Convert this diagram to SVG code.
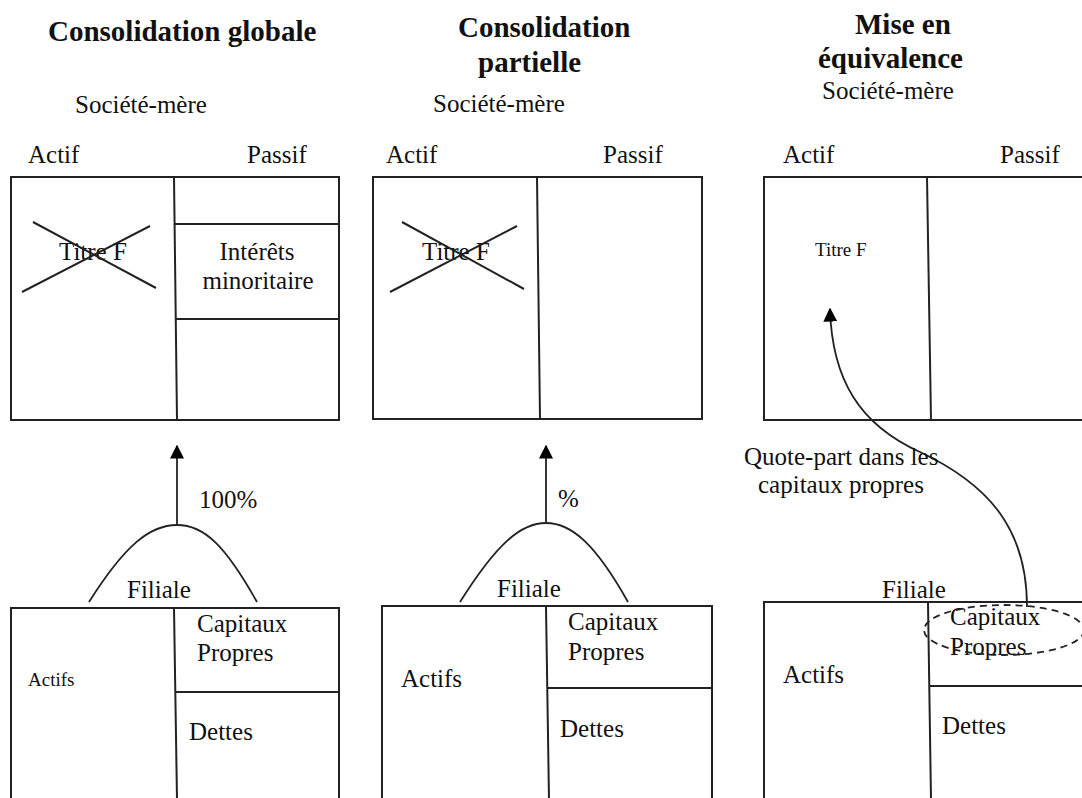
<svg xmlns="http://www.w3.org/2000/svg" width="1082" height="798" viewBox="0 0 1082 798">
<style>
text{font-family:"Liberation Serif","Times New Roman",serif;fill:#111;font-size:25px}
.t{font-weight:bold;font-size:29px}
.s{font-size:19px}
.b{fill:none;stroke:#222;stroke-width:2}
.c{fill:none;stroke:#222;stroke-width:1.8}
</style>
<defs>
<marker id="ah" viewBox="0 0 10 10" refX="9" refY="5" markerWidth="14" markerHeight="14" markerUnits="userSpaceOnUse" orient="auto">
<path d="M0 0 L10 5 L0 10 Z" fill="#000"/>
</marker>
</defs>
<rect width="1082" height="798" fill="#fff"/>

<g id="headers">
<text class="t" x="48" y="41">Consolidation globale</text>
<text class="t" x="458" y="37">Consolidation</text>
<text class="t" x="478" y="72">partielle</text>
<text class="t" x="855" y="34">Mise en</text>
<text class="t" x="818" y="68">équivalence</text>
<text x="75" y="113">Société-mère</text>
<text x="433" y="112">Société-mère</text>
<text x="822" y="99">Société-mère</text>
<text x="28" y="163">Actif</text>
<text x="247" y="163">Passif</text>
<text x="386" y="163">Actif</text>
<text x="603" y="163">Passif</text>
<text x="783" y="163">Actif</text>
<text x="1000" y="163">Passif</text>
</g>

<g id="mere-globale">
<rect class="b" x="11" y="177" width="328" height="243"/>
<line class="b" x1="174" y1="177" x2="177" y2="420"/>
<line class="b" x1="175" y1="224" x2="339" y2="224"/>
<line class="b" x1="176" y1="319" x2="339" y2="319"/>
<text x="59" y="260">Titre F</text>
<line class="b" x1="33" y1="222" x2="156" y2="288"/>
<line class="b" x1="22" y1="292" x2="150" y2="226"/>
<text x="257" y="260" text-anchor="middle">Intérêts</text>
<text x="258" y="289" text-anchor="middle">minoritaire</text>
</g>

<g id="mere-partielle">
<rect class="b" x="373" y="177" width="329" height="242"/>
<line class="b" x1="537" y1="177" x2="540" y2="419"/>
<text x="422" y="260">Titre F</text>
<line class="b" x1="402" y1="222" x2="524" y2="289"/>
<line class="b" x1="390" y1="292" x2="517" y2="226"/>
</g>

<g id="mere-equivalence">
<path class="b" d="M1085 177 H764 V420 H1085"/>
<line class="b" x1="927" y1="177" x2="931" y2="420"/>
<text class="s" x="815" y="256">Titre F</text>
</g>

<g id="filiale-globale">
<text x="127" y="598">Filiale</text>
<path class="b" d="M11 800 V608 H339 V800"/>
<line class="b" x1="174" y1="608" x2="177" y2="800"/>
<line class="b" x1="176" y1="692" x2="339" y2="692"/>
<text x="197" y="632">Capitaux</text>
<text x="197" y="661">Propres</text>
<text class="s" x="28" y="686">Actifs</text>
<text x="189" y="740">Dettes</text>
</g>

<g id="filiale-partielle">
<text x="497" y="597">Filiale</text>
<path class="b" d="M382 800 V606 H712 V800"/>
<line class="b" x1="546" y1="606" x2="549" y2="800"/>
<line class="b" x1="548" y1="688" x2="712" y2="688"/>
<text x="568" y="630">Capitaux</text>
<text x="568" y="660">Propres</text>
<text x="401" y="687">Actifs</text>
<text x="560" y="737">Dettes</text>
</g>

<g id="filiale-equivalence">
<text x="882" y="598">Filiale</text>
<path class="b" d="M764 800 V602 H1085"/>
<line class="b" x1="928" y1="602" x2="931" y2="800"/>
<line class="b" x1="930" y1="686" x2="1085" y2="686"/>
<text x="950" y="625">Capitaux</text>
<text x="950" y="655">Propres</text>
<text x="783" y="683">Actifs</text>
<text x="942" y="734">Dettes</text>
<ellipse cx="1004" cy="630" rx="80" ry="25" fill="none" stroke="#222" stroke-width="1.8" stroke-dasharray="7,5"/>
</g>

<g id="connectors">
<path class="c" d="M89 602 C125 545 150 525 177 525 C204 525 225 545 257 602"/>
<line class="c" x1="177" y1="525" x2="177" y2="446" marker-end="url(#ah)"/>
<path class="c" d="M460 602 C496 545 520 523 546 523 C572 523 596 545 628 602"/>
<line class="c" x1="546" y1="523" x2="546" y2="446" marker-end="url(#ah)"/>
<path class="c" d="M1027 607 C1027 530 990 485 920 452 C860 425 832 380 830 309" marker-end="url(#ah)"/>
</g>

<g id="labels">
<text x="199" y="508">100%</text>
<text x="558" y="507">%</text>
<text x="744" y="465">Quote-part dans les</text>
<text x="758" y="493">capitaux propres</text>
</g>
</svg>
